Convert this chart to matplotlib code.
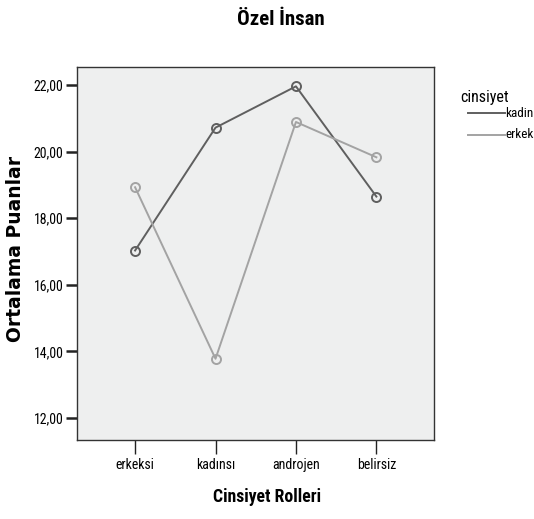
import matplotlib.pyplot as plt
from matplotlib import font_manager

roller = ['erkeksi', 'kadınsı', 'androjen', 'belirsiz']
kadin = [17.03, 20.72, 21.96, 18.65]
erkek = [18.93, 13.78, 20.89, 19.83]
y_ticks = [12, 14, 16, 18, 20, 22]

# dar bir yazı tipi varsa onu kullan
names = {f.name for f in font_manager.fontManager.ttflist}
font = 'Liberation Sans'
for cand in ['Liberation Sans Narrow', 'Roboto Condensed', 'Open Sans Condensed',
             'DejaVu Sans Condensed']:
    if cand in names:
        font = cand
        break
narrow = font != 'Liberation Sans'
plt.rcParams['font.family'] = [font, 'DejaVu Sans']
k = 1.0 if narrow else 0.92

fig = plt.figure(figsize=(5.34, 5.19), dpi=100)
ax = fig.add_axes([0.1448, 0.1522, 0.6685, 0.7193])
ax.set_facecolor('#eeefef')

x = list(range(len(roller)))
ax.plot(x, kadin, color='#5f5f5f', lw=1.4, marker='o', ms=6.5,
        mfc='none', mec='#5f5f5f', mew=1.4)
ax.plot(x, erkek, color='#a3a3a3', lw=1.4, marker='o', ms=6.5,
        mfc='none', mec='#a3a3a3', mew=1.4)

ax.set_xlim(-0.718, 3.72)
ax.set_ylim(11.34, 22.55)
ax.set_xticks(x)
ax.set_xticklabels(roller, fontsize=10 * k)
ax.set_yticks(y_ticks)
ax.set_yticklabels([('%.2f' % v).replace('.', ',') for v in y_ticks], fontsize=10 * k)
ax.tick_params(axis='y', direction='out', length=8, width=1.8, color='#222222', pad=2)
ax.tick_params(axis='x', direction='out', length=10, width=1.0, color='#222222', pad=3)
for s in ax.spines.values():
    s.set_color('#333333')
    s.set_linewidth(1.0)

fig.text(0.525, 0.962, 'Özel İnsan', ha='center', va='center',
         fontsize=15 if narrow else 12.5, fontweight='bold')
fig.text(0.50, 0.042, 'Cinsiyet Rolleri', ha='center', va='center',
         fontsize=12.8 if narrow else 11, fontweight='bold')
fig.text(0.029, 0.52, 'Ortalama Puanlar', ha='center', va='center',
         rotation=90, fontsize=13.5, fontweight='bold', family='DejaVu Sans')

# legend
fig.text(0.908, 0.812, 'cinsiyet', ha='center', va='center', fontsize=11.5 * k)
fig.lines.append(plt.Line2D([0.876, 0.945], [0.782, 0.782], color='#5f5f5f',
                            lw=1.4, transform=fig.transFigure))
fig.lines.append(plt.Line2D([0.876, 0.945], [0.740, 0.740], color='#a3a3a3',
                            lw=1.4, transform=fig.transFigure))
fig.text(0.946, 0.782, 'kadin', ha='left', va='center', fontsize=9.5 if narrow else 8)
fig.text(0.946, 0.740, 'erkek', ha='left', va='center', fontsize=9.5 if narrow else 8)

fig.savefig('out.png', dpi=100, facecolor='white')
